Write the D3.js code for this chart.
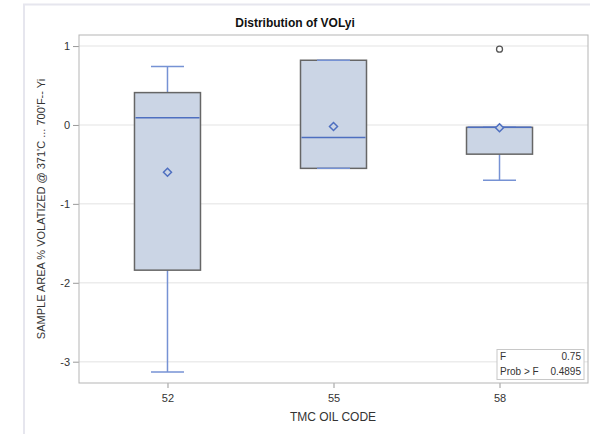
<!DOCTYPE html>
<html>
<head>
<meta charset="utf-8">
<script src="https://cdn.jsdelivr.net/npm/d3@7"></script>
<style>
  html, body { margin: 0; padding: 0; background: #fff; }
  svg { display: block; font-family: Arial, "Liberation Sans", sans-serif; }
</style>
</head>
<body>
<svg id="chart" width="590" height="434"></svg>
<script>
const categories = ["52", "55", "58"];
const whiskerLow = [-3.13, -0.55, -0.70];
const q1 = [-1.84, -0.55, -0.37];
const median = [0.09, -0.16, -0.03];
const q3 = [0.41, 0.82, -0.03];
const whiskerHigh = [0.74, 0.82, -0.03];
const means = [-0.60, -0.02, -0.035];
const outlierCat = ["58"];
const outlierVal = [0.96];
const yTicks = [1, 0, -1, -2, -3];
const statLabels = ["F", "Prob > F"];
const statValues = ["0.75", "0.4895"];

const svg = d3.select("#chart");
const pLeft = 79, pRight = 588, pTop = 35, pBottom = 383;

svg.append("path")
  .attr("d", `M24,434 L24,4.5 L590,4.5`)
  .attr("fill", "none").attr("stroke", "#e6e6ee").attr("stroke-width", 2);

const x = d3.scalePoint().domain(categories).range([pLeft, pRight]).padding(0.533);
const y = d3.scaleLinear().domain([-3.27, 1.14]).range([pBottom, pTop]);

svg.append("g").selectAll("line").data(yTicks).join("line")
  .attr("x1", pLeft).attr("x2", pRight)
  .attr("y1", d => y(d)).attr("y2", d => y(d))
  .attr("stroke", "#ececec").attr("stroke-width", 1.5);

const yAxis = svg.append("g").attr("transform", `translate(${pLeft},0)`)
  .call(d3.axisLeft(y).tickValues(yTicks).tickSize(6).tickPadding(3).tickFormat(d => String(d)));
const xAxis = svg.append("g").attr("transform", `translate(0,${pBottom})`)
  .call(d3.axisBottom(x).tickSize(5).tickPadding(6));
[yAxis, xAxis].forEach(a => {
  a.select(".domain").remove();
  a.selectAll("line").attr("stroke", "#999");
  a.selectAll("text").attr("fill", "#333").style("font-size", "11px");
});

svg.append("rect").attr("x", pLeft).attr("y", pTop)
  .attr("width", pRight - pLeft).attr("height", pBottom - pTop)
  .attr("fill", "none").attr("stroke", "#b5b5b5").attr("stroke-width", 1);

const boxW = 66, capW = 33;
const blue = "#4e6fc0", whiskBlue = "#7692d4";
const data = categories.map((c, i) => ({c, lo: whiskerLow[i], q1: q1[i], md: median[i], q3: q3[i], hi: whiskerHigh[i], mean: means[i]}));

const g = svg.append("g");
data.forEach(d => {
  const cx = x(d.c);
  g.append("line").attr("x1", cx).attr("x2", cx).attr("y1", y(d.q1)).attr("y2", y(d.lo))
    .attr("stroke", whiskBlue).attr("stroke-width", 1.5);
  g.append("line").attr("x1", cx).attr("x2", cx).attr("y1", y(d.q3)).attr("y2", y(d.hi))
    .attr("stroke", whiskBlue).attr("stroke-width", 1.5);
  g.append("rect").attr("x", cx - boxW / 2).attr("y", y(d.q3))
    .attr("width", boxW).attr("height", y(d.q1) - y(d.q3))
    .attr("fill", "#cbd5e5").attr("stroke", "#666").attr("stroke-width", 1.5);
  [d.lo, d.hi].forEach(v => {
    g.append("line").attr("x1", cx - capW / 2).attr("x2", cx + capW / 2)
      .attr("y1", y(v)).attr("y2", y(v))
      .attr("stroke", whiskBlue).attr("stroke-width", 1.5);
  });
  g.append("line").attr("x1", cx - boxW / 2 + 1).attr("x2", cx + boxW / 2 - 1)
    .attr("y1", y(d.md)).attr("y2", y(d.md))
    .attr("stroke", blue).attr("stroke-width", 1.5);
  const my = y(d.mean), r = 4;
  g.append("path").attr("d", `M${cx},${my - r}L${cx + r},${my}L${cx},${my + r}L${cx - r},${my}Z`)
    .attr("fill", "#cbd5e5").attr("stroke", blue).attr("stroke-width", 1.5);
});

g.selectAll("circle.out").data(outlierVal).join("circle")
  .attr("class", "out")
  .attr("cx", (d, i) => x(outlierCat[i])).attr("cy", d => y(d)).attr("r", 3)
  .attr("fill", "none").attr("stroke", "#555").attr("stroke-width", 1.3);

const sx = 497, sy = 349.5, sw = 87, sh = 30;
svg.append("rect").attr("x", sx).attr("y", sy).attr("width", sw).attr("height", sh)
  .attr("fill", "#fff").attr("stroke", "#c8c8c8").attr("stroke-width", 1);
statLabels.forEach((t, i) => {
  svg.append("text").attr("x", sx + 3).attr("y", sy + 10 + i * 15)
    .attr("fill", "#333").style("font-size", "10px").text(t);
  svg.append("text").attr("x", sx + sw - 3).attr("y", sy + 10 + i * 15)
    .attr("text-anchor", "end").attr("fill", "#333").style("font-size", "10px").text(statValues[i]);
});

svg.append("text").attr("x", 295).attr("y", 27).attr("text-anchor", "middle")
  .attr("font-weight", "bold").attr("fill", "#111").style("font-size", "12px")
  .text("Distribution of VOLyi");

svg.append("text").attr("x", (pLeft + pRight) / 2 - 0.5).attr("y", 421).attr("text-anchor", "middle")
  .attr("fill", "#333").style("font-size", "12px").text("TMC OIL CODE");
svg.append("text").attr("transform", `translate(45,${(pTop + pBottom) / 2}) rotate(-90)`)
  .attr("text-anchor", "middle").attr("fill", "#333").style("font-size", "11px")
  .text("SAMPLE AREA % VOLATIZED @ 371'C ... 700'F-- Yi");
</script>
</body>
</html>
